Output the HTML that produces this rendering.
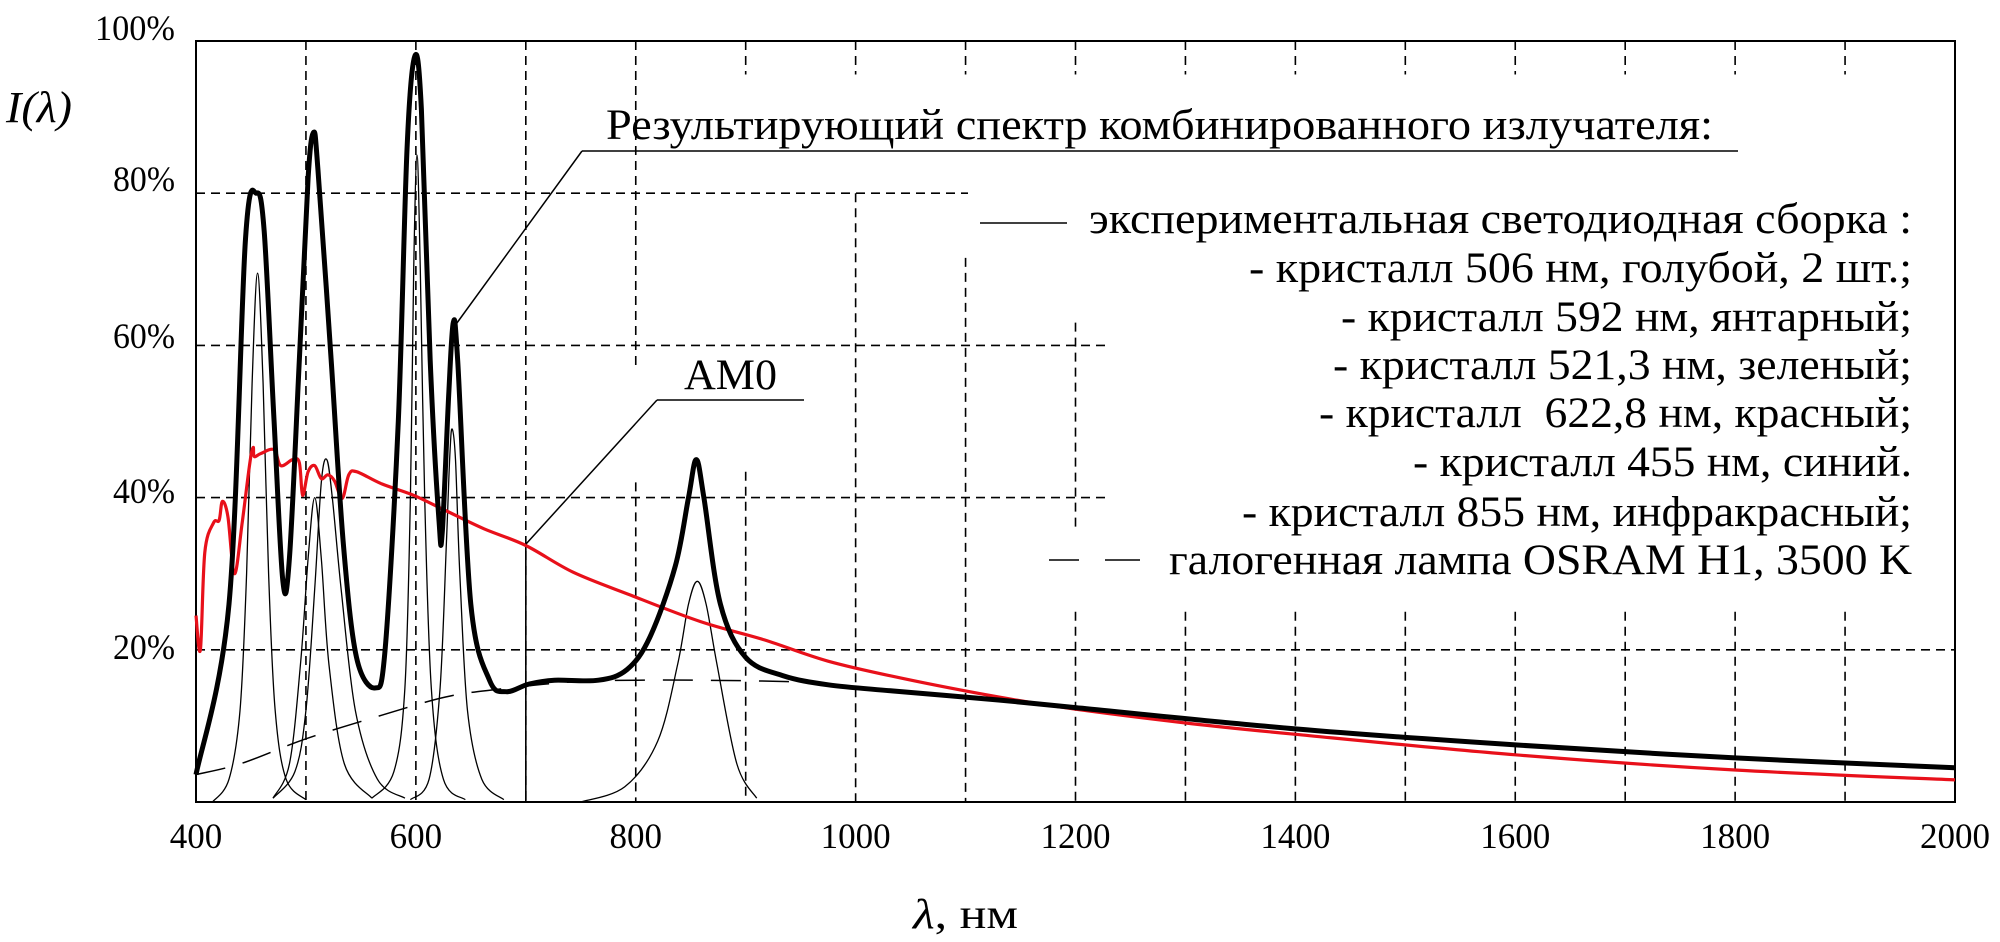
<!DOCTYPE html>
<html><head><meta charset="utf-8"><style>
html,body{margin:0;padding:0;background:#fff}
svg{display:block}
text{font-family:"Liberation Serif","Noto Serif CJK SC",serif;fill:#000}
</style></head><body>
<svg id="chart" width="2000" height="942" viewBox="0 0 2000 942" xmlns="http://www.w3.org/2000/svg">
<g id="grid"></g>
<rect x="196" y="41" width="1759" height="761" fill="none" stroke="#000" stroke-width="2"/>
<g id="series"></g>
<g id="axes"></g>
<text x="6" y="122" font-size="44" font-style="italic" textLength="66" lengthAdjust="spacingAndGlyphs">I(λ)</text>
<text x="913" y="928" font-size="42" textLength="105" lengthAdjust="spacingAndGlyphs"><tspan font-style="italic">λ</tspan>, нм</text>
<g>
<text x="606" y="139" font-size="43" textLength="1107" lengthAdjust="spacingAndGlyphs">Результирующий спектр комбинированного излучателя:</text>
<line x1="582" y1="151" x2="1738" y2="151" stroke="#000" stroke-width="1.5"/>
<line x1="582" y1="151" x2="454" y2="327" stroke="#000" stroke-width="1.5"/>
</g>
<g>
<text x="684" y="389" font-size="43" textLength="93" lengthAdjust="spacingAndGlyphs">AM0</text>
<line x1="657" y1="400" x2="804" y2="400" stroke="#000" stroke-width="1.5"/>
<line x1="657" y1="400" x2="526" y2="544" stroke="#000" stroke-width="1.5"/>
</g>
<g>
<line x1="980" y1="223" x2="1067" y2="223" stroke="#000" stroke-width="1.5"/>
<text x="1089" y="233" font-size="43" textLength="823" lengthAdjust="spacingAndGlyphs">экспериментальная светодиодная сборка :</text>
<text x="1249" y="282" font-size="43" textLength="663" lengthAdjust="spacingAndGlyphs">- кристалл 506 нм, голубой, 2 шт.;</text>
<text x="1341" y="331" font-size="43" textLength="571" lengthAdjust="spacingAndGlyphs">- кристалл 592 нм, янтарный;</text>
<text x="1333" y="379" font-size="43" textLength="579" lengthAdjust="spacingAndGlyphs">- кристалл 521,3 нм, зеленый;</text>
<text x="1319" y="427" font-size="43" textLength="593" lengthAdjust="spacingAndGlyphs" xml:space="preserve">- кристалл  622,8 нм, красный;</text>
<text x="1413" y="476" font-size="43" textLength="499" lengthAdjust="spacingAndGlyphs">- кристалл 455 нм, синий.</text>
<text x="1242" y="526" font-size="43" textLength="670" lengthAdjust="spacingAndGlyphs">- кристалл 855 нм, инфракрасный;</text>
<line x1="1049" y1="560" x2="1079" y2="560" stroke="#000" stroke-width="1.5"/>
<line x1="1105" y1="560" x2="1140" y2="560" stroke="#000" stroke-width="1.5"/>
<text x="1169" y="574" font-size="43" textLength="743" lengthAdjust="spacingAndGlyphs">галогенная лампа OSRAM H1, 3500 K</text>
</g>
</svg>
<script>
// ---- data ----
const xTicks = [400,600,800,1000,1200,1400,1600,1800,2000];
const yTicks = [20,40,60,80,100];
const ledLam = [400,430,445,455,462,471,479,485,494,502,507,511,523,534,546,563,572,584,592,599,605,613,621,624,630,634,638,650,667,682,703,726,766,792,813,836,848,855,862,877,900,934,975,1033,1130,1200,1400,1600,1800,2000];
const ledVal = [3.6,26,74,80,75,50,29,32,58,82,88,83,58,34,19,15,20,50,86,98,91,58,37,35.5,54,63,58,26,16,14.5,15.5,16,16,17.4,21.7,31,40,45,40,26,19,16.6,15.4,14.6,13.4,12.4,9.6,7.5,5.8,4.5];
const am0Lam = [400,404,408,416,421,424,429,435,442,449,452,453,459,471,477,488,494,497,502,508,514,520,526,533,539,546,569,598,627,662,700,743,795,859,917,975,1044,1130,1200,1305,1400,1600,1800,2000];
const am0Val = [24.5,20,32.8,36.7,37,39.5,37.5,30,36.7,44.6,46.6,45.4,45.8,46.3,44.2,45,44.6,40.3,43.4,44.2,42.5,43,42.2,39.9,43,43.4,41.8,40.3,38.3,35.9,33.7,30.2,27.2,23.7,21.3,18.5,16.2,13.8,12.2,10.3,8.9,6.2,4.2,2.9];
const halLam = [400,442,500,569,627,674,743,801,859,946,975];
const halVal = [3.6,5.1,8.3,11.4,13.8,14.8,15.8,16,16,15.8,15.4];
const p455Lam = [415,430,440,446,451,456,461,466,472,482,500];
const p455Val = [0,3,12,30,55,69.5,55,30,12,3,0.3];
const p508Lam = [470,485,495,502,508,514,521,535,560];
const p508Val = [0.5,5,18,32,40,32,18,5,0.5];
const p519Lam = [470,490,500,508,514,519,524,532,545,565,590];
const p519Val = [0.5,4,12,28,42,45,40,28,12,3,0.5];
const p600Lam = [560,580,590,595,598,601,604,608,614,625,645];
const p600Val = [0.5,4,15,40,70,85,70,40,15,3,0.3];
const p633Lam = [595,612,622,628,631,633,636,640,647,660,680];
const p633Val = [0.3,3,15,35,46,49,45,30,12,3,0.3];
const p856Lam = [750,790,820,838,848,856,864,874,892,910];
const p856Val = [0,2,8,18,26,29,26,18,5,0.5];

// ---- axes ----
const X0=196, X1=1955, Y0=802, Y1=41;
const xs = v => X0 + (v-400)/1600*(X1-X0);
const ys = v => Y0 - v/100*(Y0-Y1);
const NS='http://www.w3.org/2000/svg';
function mk(tag, attrs, parent){const e=document.createElementNS(NS,tag);for(const k in attrs)e.setAttribute(k,attrs[k]);parent.appendChild(e);return e;}
function pathFrom(lam, val){
  const p = lam.map((l,i)=>[xs(l), ys(val[i])]);
  let d = `M${p[0][0].toFixed(1)},${p[0][1].toFixed(1)}`;
  for(let i=0;i<p.length-1;i++){
    const a=p[i-1]||p[i], b=p[i], c=p[i+1], e=p[i+2]||c;
    const c1=[b[0]+(c[0]-a[0])/6, b[1]+(c[1]-a[1])/6];
    const c2=[c[0]-(e[0]-b[0])/6, c[1]-(e[1]-b[1])/6];
    d+=` C${c1[0].toFixed(1)},${c1[1].toFixed(1)} ${c2[0].toFixed(1)},${c2[1].toFixed(1)} ${c[0].toFixed(1)},${c[1].toFixed(1)}`;
  }
  return d;
}
const grid=document.getElementById('grid');
const dash={stroke:'#000','stroke-width':1.6,'stroke-dasharray':'9,6'};
const vSeg = {500:[[0,100]],600:[[0,100]],700:[[0,100]],800:[[57.4,100],[0,42]],900:[[95.6,100],[0,43.4]],1000:[[95.6,100],[0,80]],1100:[[95.6,100],[0,71.5]],1200:[[95.6,100],[36,63],[0,25]],1300:[[95.6,100],[0,25]],1400:[[95.6,100],[0,25]],1500:[[95.6,100],[0,25]],1600:[[95.6,100],[0,25]],1700:[[95.6,100],[0,25]],1800:[[95.6,100],[0,25]],1900:[[95.6,100],[0,25]]};
for(const k in vSeg){ for(const s of vSeg[k]){
  const l=mk('line',Object.assign({x1:xs(+k),x2:xs(+k),y1:ys(s[1]),y2:ys(s[0])},dash),grid);
  
  
}}
const sl=mk('line',{x1:xs(700),x2:xs(700),y1:544,y2:Y0,stroke:'#000','stroke-width':1.6},grid);


const hSeg={20:1955,40:1107,60:1107,80:968};
for(const k in hSeg){
  const l=mk('line',Object.assign({x1:X0,x2:hSeg[k],y1:ys(+k),y2:ys(+k)},dash),grid);
  
  
}
const axes=document.getElementById('axes');
xTicks.forEach(t=>{
  const w = String(t).length*17.5;
  const e=mk('text',{x:xs(t)-w/2,y:848,'font-size':36,textLength:w,lengthAdjust:'spacingAndGlyphs'},axes);
  e.textContent=t;
  
  
});
const yLabelY={20:659,40:503,60:348,80:191,100:40};
yTicks.forEach(t=>{
  const w = t===100?80:62;
  const e=mk('text',{x:175-w,y:yLabelY[t],'font-size':36,textLength:w,lengthAdjust:'spacingAndGlyphs'},axes);
  e.textContent=t+'%';
  
  
});
// ---- series ----
const ser=document.getElementById('series');
const peaks=[['peak-455',p455Lam,p455Val],['peak-508',p508Lam,p508Val],['peak-519',p519Lam,p519Val],['peak-600',p600Lam,p600Val],['peak-633',p633Lam,p633Val],['peak-856',p856Lam,p856Val]];
peaks.forEach(pk=>{
  const e=mk('path',{d:pathFrom(pk[1],pk[2]),fill:'none',stroke:'#000','stroke-width':1.3},ser);
  
  
});
const hal=mk('path',{d:pathFrom(halLam,halVal),fill:'none',stroke:'#000','stroke-width':1.5,'stroke-dasharray':'30,18'},ser);


const am=mk('path',{d:pathFrom(am0Lam,am0Val),fill:'none',stroke:'#e8101a','stroke-width':3.2},ser);


const led=mk('path',{d:pathFrom(ledLam,ledVal),fill:'none',stroke:'#000','stroke-width':5,'stroke-linejoin':'round'},ser);


</script>
</body></html>
